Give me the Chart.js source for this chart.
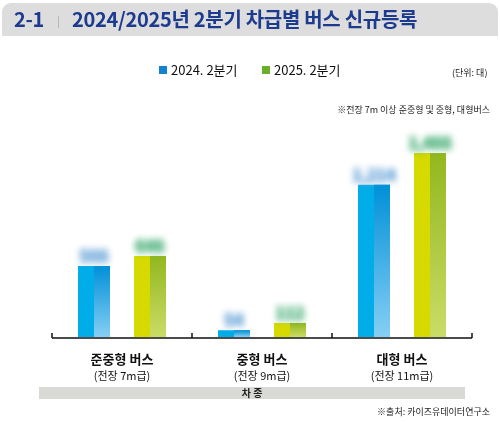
<!DOCTYPE html>
<html>
<head>
<meta charset="utf-8">
<script src="https://cdn.jsdelivr.net/npm/chart.js@4.4.1/dist/chart.umd.min.js"></script>
<style>
  body { margin: 0; background: #fff; font-family: "Noto Sans CJK KR", sans-serif; }
  #wrap { position: relative; width: 500px; height: 422px; overflow: hidden; }
  #myChart { position: absolute; left: 0; top: 0; }
  .head { position: absolute; left: 2px; top: 3px; width: 496px; height: 33px; background: #dddddd; border-radius: 9px 9px 0 0; }
  .head span { position: absolute; top: 3px; font-size: 20px; font-weight: bold; color: #1c3a8e; line-height: 26px; letter-spacing: -0.3px; }
  .sep { position: absolute; left: 56px; top: 13px; width: 1px; height: 12px; background: #b8b8b8; }
  .legend { position: absolute; top: 62px; font-size: 13px; color: #111; line-height: 16px; }
  .legend i { display: inline-block; width: 8px; height: 8px; margin-right: 4px; vertical-align: 1px; }
  .small { position: absolute; font-size: 9px; color: #222; line-height: 12px; white-space: nowrap; }
  .band { position: absolute; left: 39px; top: 387px; width: 426px; height: 12px; background: #d9d9d5; text-align: center; font-size: 10px; font-weight: bold; line-height: 12px; color: #222; }
</style>
</head>
<body>
<div id="wrap">
  <canvas id="myChart" width="500" height="422"></canvas>
  <div class="head">
    <span style="left:12px">2-1</span>
    <div class="sep"></div>
    <span style="left:70px">2024/2025년 2분기 차급별 버스 신규등록</span>
  </div>
  <div class="legend" style="left:159px"><i style="background:#1482d2"></i>2024. 2분기</div>
  <div class="legend" style="left:262px"><i style="background:#6aae2a"></i>2025. 2분기</div>
  <div class="small" style="left:452px; top:67px">(단위: 대)</div>
  <div class="small" style="right:10px; top:104px">※전장 7m 이상 준중형 및 중형, 대형버스</div>
  <div class="band">차 종</div>
  <div class="small" style="right:10px; top:406px">※출처: 카이즈유데이터연구소</div>
</div>
<script type="text/javascript">
// bus new registrations by class, Q2 2024 vs Q2 2025 (values are blurred in the source)
var categories = ['준중형 버스', '중형 버스', '대형 버스'];
var subLabels = ['(전장 7m급)', '(전장 9m급)', '(전장 11m급)'];
var seriesNames = ['2024. 2분기', '2025. 2분기'];
var q2_2024 = [566, 54, 1214];
var q2_2025 = [646, 112, 1466];

// left half / right half gradient stops (top, bottom)
var barColors = [
  { left: ['#00ade8', '#cfe8f8'], right: ['#0090d8', '#86cff4'], label: '#6fa8da' },
  { left: ['#d6da00', '#f6f2a2'], right: ['#93b71e', '#cadc66'], label: '#4fb27c' }
];

function vGrad(ctx, top, bottom, stops) {
  var g = ctx.createLinearGradient(0, top, 0, bottom);
  g.addColorStop(0, stops[0]);
  g.addColorStop(1, stops[1]);
  return g;
}

var leftFill = (c) => {
  var bar = c.chart.getDatasetMeta(c.datasetIndex).data[c.dataIndex];
  if (!bar || isNaN(bar.y)) return barColors[c.datasetIndex].left[0];
  return vGrad(c.chart.ctx, bar.y, bar.base, barColors[c.datasetIndex].left);
};

var busPlugin = {
  id: 'busPlugin',
  afterDatasetsDraw(chart) {
    var ctx = chart.ctx;
    var xs = chart.scales.x;
    var area = chart.chartArea;
    // right half of each bar + blurred value label
    chart.data.datasets.forEach((ds, di) => {
      chart.getDatasetMeta(di).data.forEach((bar, i) => {
        var half = bar.width / 2;
        ctx.save();
        ctx.fillStyle = vGrad(ctx, bar.y, bar.base, barColors[di].right);
        ctx.fillRect(bar.x, bar.y, half, bar.base - bar.y);
        ctx.restore();

        ctx.save();
        ctx.filter = 'blur(3.5px)';
        ctx.fillStyle = barColors[di].label;
        ctx.font = 'bold 16px "Noto Sans CJK KR"';
        ctx.textAlign = 'center';
        ctx.textBaseline = 'bottom';
        var txt = ds.data[i].toLocaleString('en-US');
        ctx.fillText(txt, bar.x, bar.y - 2);
        ctx.fillText(txt, bar.x, bar.y - 2);
        ctx.restore();
      });
    });
    // axis line with upward ticks at category boundaries
    var y0 = area.bottom + 1;
    ctx.save();
    ctx.strokeStyle = '#111';
    ctx.lineWidth = 1.5;
    ctx.beginPath();
    ctx.moveTo(area.left, y0);
    ctx.lineTo(area.right, y0);
    var step = (area.right - area.left) / categories.length;
    for (var k = 0; k <= categories.length; k++) {
      var tx = area.left + step * k;
      ctx.moveTo(tx, y0);
      ctx.lineTo(tx, y0 - 5);
    }
    ctx.stroke();
    // category labels
    ctx.fillStyle = '#111';
    ctx.textAlign = 'center';
    ctx.textBaseline = 'middle';
    categories.forEach((c, i) => {
      var cx = xs.getPixelForValue(i);
      ctx.font = 'bold 13px "Noto Sans CJK KR"';
      ctx.fillText(c, cx, y0 + 21);
      ctx.font = '11px "Noto Sans CJK KR"';
      ctx.fillText(subLabels[i], cx, y0 + 38);
    });
    ctx.restore();
  }
};

var config = {
  type: 'bar',
  data: {
    labels: categories,
    datasets: [{
      label: seriesNames[0],
      data: q2_2024,
      backgroundColor: leftFill
    }, {
      label: seriesNames[1],
      data: q2_2025,
      backgroundColor: leftFill
    }]
  },
  options: {
    responsive: false,
    animation: false,
    categoryPercentage: 0.8,
    barPercentage: 0.571,
    layout: {
      padding: { left: 52, right: 28, top: 130, bottom: 85 }
    },
    plugins: {
      legend: { display: false },
      tooltip: { enabled: false }
    },
    scales: {
      x: { display: false },
      y: { display: false, min: 0, max: 1650 }
    }
  },
  plugins: [busPlugin]
};

var myChart = new Chart(
  document.getElementById('myChart'),
  config
);
</script>
</body>
</html>
